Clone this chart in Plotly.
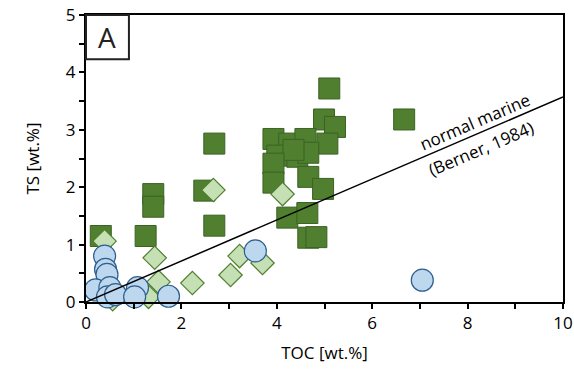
import plotly.graph_objects as go

# Dark green squares
sq_toc = [0.31, 1.25, 1.41, 1.41, 2.69, 2.48, 2.69, 5.10, 4.99, 5.22, 6.67, 3.93, 4.26, 4.60,
          5.06, 4.01, 4.43, 4.66, 4.35, 3.93, 3.93, 4.66, 4.97, 4.22, 4.64, 4.66, 4.83]
sq_ts = [1.15, 1.15, 1.88, 1.66, 2.76, 1.94, 1.33, 3.72, 3.18, 3.05, 3.18, 2.84, 2.76, 2.84,
         2.76, 2.55, 2.53, 2.60, 2.65, 2.41, 2.08, 2.18, 1.97, 1.47, 1.55, 1.12, 1.13]

# Light green diamonds
dm_toc = [0.39, 1.44, 1.52, 1.31, 0.56, 2.23, 3.03, 3.22, 3.70, 2.67, 4.12]
dm_ts = [1.06, 0.77, 0.35, 0.09, 0.05, 0.33, 0.47, 0.80, 0.68, 1.95, 1.88]

# Light blue circles
ci_toc = [0.39, 0.41, 0.44, 0.20, 0.50, 0.45, 0.62, 1.08, 1.02, 1.73, 3.55, 7.05]
ci_ts = [0.80, 0.57, 0.48, 0.21, 0.25, 0.09, 0.13, 0.25, 0.09, 0.10, 0.89, 0.38]

# Normal marine line (Berner, 1984): TS = TOC / 2.8
line_toc = [0, 10]
line_ts = [0, 10 / 2.8]

x_ticks = [0, 1, 2, 3, 4, 5, 6, 7, 8, 9, 10]
x_labels = ["0", "", "2", "", "4", "", "6", "", "8", "", "10"]
y_ticks = [0, 0.5, 1, 1.5, 2, 2.5, 3, 3.5, 4, 4.5, 5]
y_labels = ["0", "", "1", "", "2", "", "3", "", "4", "", "5"]

FONT = "Open Sans"

fig = go.Figure()
fig.add_trace(go.Scatter(x=sq_toc, y=sq_ts, mode="markers",
                         marker=dict(symbol="square", size=21, color="#4F7F2F",
                                     line=dict(color="#3B6324", width=1)),
                         showlegend=False, cliponaxis=False))
fig.add_trace(go.Scatter(x=dm_toc, y=dm_ts, mode="markers",
                         marker=dict(symbol="diamond", size=18, color="#C5E0B4",
                                     line=dict(color="#4F7F2F", width=1.2)),
                         showlegend=False, cliponaxis=False))
fig.add_trace(go.Scatter(x=ci_toc, y=ci_ts, mode="markers",
                         marker=dict(symbol="circle", size=22, color="#BDD7EE",
                                     line=dict(color="#2E5F8F", width=1.2)),
                         showlegend=False, cliponaxis=False))
fig.add_trace(go.Scatter(x=line_toc, y=line_ts, mode="lines",
                         line=dict(color="black", width=1.5), showlegend=False))

fig.add_annotation(x=8.16, y=3.14, text="normal marine", showarrow=False,
                   textangle=-23.2, font=dict(family=FONT, size=17, color="black"))
fig.add_annotation(x=8.28, y=2.67, text="(Berner, 1984)", showarrow=False,
                   textangle=-23.2, font=dict(family=FONT, size=17, color="black"))

# Panel label box
fig.add_shape(type="rect", xref="paper", yref="paper", x0=0, x1=0.09, y0=0.846, y1=1,
              line=dict(color="#222222", width=2), fillcolor="white")
fig.add_annotation(xref="paper", yref="paper", x=0.045, y=0.923, text="A", showarrow=False,
                   xanchor="center", yanchor="middle",
                   font=dict(family=FONT, size=28, color="#222222"))

fig.update_layout(
    width=574, height=376,
    margin=dict(l=86, r=11, t=15, b=74),
    paper_bgcolor="white", plot_bgcolor="white",
    font=dict(family=FONT, size=17, color="black"),
)
fig.update_xaxes(range=[0, 10], tickvals=x_ticks, ticktext=x_labels, ticks="outside",
                 ticklen=5, tickwidth=1.5, tickcolor="black", showgrid=False, zeroline=False,
                 showline=True, linecolor="black", linewidth=2, mirror=True, automargin=False,
                 title=dict(text="TOC [wt.%]", font=dict(family=FONT, size=17), standoff=14))
fig.update_yaxes(range=[0, 5], tickvals=y_ticks, ticktext=y_labels, ticks="outside",
                 ticklen=5, tickwidth=1.5, tickcolor="black", showgrid=False, zeroline=False,
                 showline=True, linecolor="black", linewidth=2, mirror=True, automargin=False,
                 title=dict(text="TS [wt.%]", font=dict(family=FONT, size=17), standoff=22))

fig.write_html("out.html", config={"displayModeBar": False},
               post_script="document.body.style.margin='0px';")
